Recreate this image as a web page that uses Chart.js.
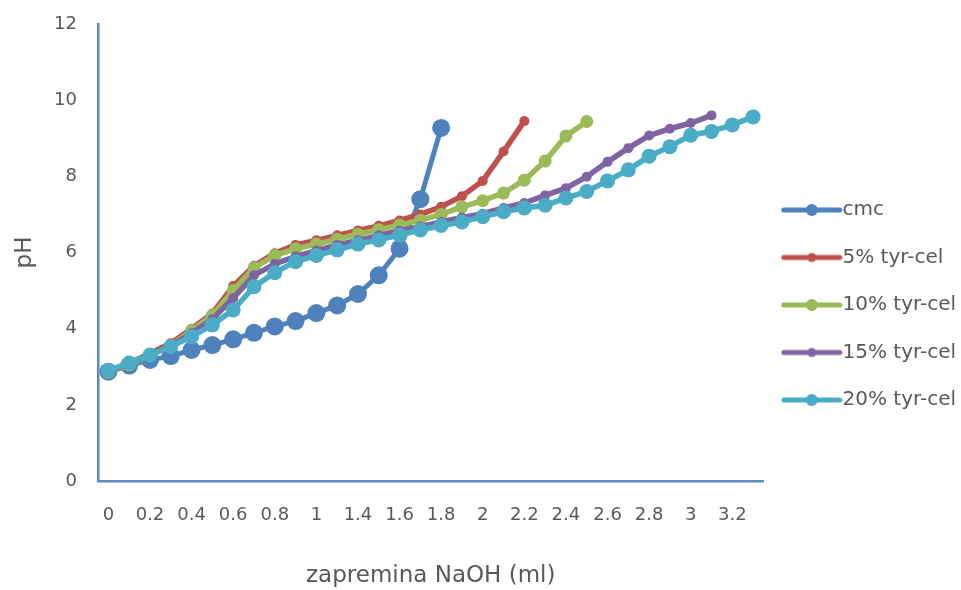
<!DOCTYPE html>
<html>
<head>
<meta charset="utf-8">
<script src="https://cdn.jsdelivr.net/npm/chart.js@4/dist/chart.umd.min.js"></script>
<style>
  html, body { margin: 0; padding: 0; background: #fff; }
  #wrap { width: 961px; height: 590px; }
</style>
</head>
<body>
<div id="wrap"><canvas id="chart" width="961" height="590"></canvas></div>
<script>
// volumes of NaOH (ml) - note the jump after 1 (1.1 and 1.3 are not in the sheet)
const volumes = ['0', '0.1', '0.2', '0.3', '0.4', '0.5', '0.6', '0.7', '0.8', '0.9', '1', '1.2',
    '1.4', '1.5', '1.6', '1.7', '1.8', '1.9', '2', '2.1', '2.2', '2.3', '2.4', '2.5',
    '2.6', '2.7', '2.8', '2.9', '3', '3.1', '3.2', '3.3'];

const seriesNames = ['cmc', '5% tyr-cel', '10% tyr-cel', '15% tyr-cel', '20% tyr-cel'];

const cmc = [2.87, 3.03, 3.18, 3.28, 3.44, 3.57, 3.72, 3.89, 4.06, 4.2, 4.41, 4.61, 4.91, 5.4, 6.1, 7.4, 9.27];
const tyr5 = [2.87, 3.1, 3.35, 3.62, 4.0, 4.4, 5.12, 5.65, 5.98, 6.2, 6.32, 6.45, 6.58, 6.7, 6.84, 7.0, 7.2,
    7.48, 7.88, 8.65, 9.45];
const tyr10 = [2.85, 3.05, 3.3, 3.55, 3.95, 4.35, 5.0, 5.6, 5.92, 6.1, 6.22, 6.35, 6.48, 6.6, 6.72, 6.85, 7.0,
    7.2, 7.36, 7.56, 7.9, 8.4, 9.06, 9.44];
const tyr15 = [2.87, 3.08, 3.3, 3.55, 3.88, 4.25, 4.8, 5.4, 5.7, 5.9, 6.05, 6.2, 6.32, 6.45, 6.57, 6.68, 6.8,
    6.92, 7.02, 7.17, 7.3, 7.5, 7.69, 7.99, 8.38, 8.74, 9.07, 9.25, 9.4, 9.6];
const tyr20 = [2.9, 3.1, 3.31, 3.53, 3.79, 4.1, 4.49, 5.1, 5.47, 5.76, 5.92, 6.07, 6.22, 6.33, 6.46, 6.59, 6.71,
    6.8, 6.94, 7.07, 7.17, 7.24, 7.43, 7.6, 7.88, 8.17, 8.53, 8.78, 9.08, 9.18, 9.35, 9.56];

const yTicks = [0, 2, 4, 6, 8, 10, 12];

const colors = ['#4F81BD', '#C0504D', '#9BBB59', '#8064A2', '#4BACC6'];
const radii = [9, 5, 6.5, 5, 7.5];
const allValues = [cmc, tyr5, tyr10, tyr15, tyr20];

const FONT = "'DejaVu Sans', sans-serif";
const GREY = '#595959';
const AXIS = '#5B8AC6';

// legend icon: short thick line with a dot in the middle, like the office legend
function legendIcon(color, r) {
    const c = document.createElement('canvas');
    c.width = 62;
    c.height = 22;
    const g = c.getContext('2d');
    g.strokeStyle = color;
    g.lineWidth = 5;
    g.lineCap = 'round';
    g.beginPath();
    g.moveTo(3, 11);
    g.lineTo(59, 11);
    g.stroke();
    g.fillStyle = color;
    g.beginPath();
    g.arc(31, 11, r, 0, Math.PI * 2);
    g.fill();
    return c;
}

const datasets = allValues.map((vals, i) => ({
    label: seriesNames[i],
    data: vals,
    borderColor: colors[i],
    backgroundColor: colors[i],
    pointBackgroundColor: colors[i],
    pointBorderWidth: 0,
    pointRadius: radii[i],
    borderWidth: i === 0 ? 5 : 5.5,
    tension: 0,
    order: allValues.length - i // later series on top, as in excel
}));

// small correction of the legend's vertical spot
const legendShift = {
    id: 'legendShift',
    afterLayout(chart) {
        if (chart.legend) chart.legend.top -= 4;
    }
};

const ctx = document.getElementById('chart').getContext('2d');

new Chart(ctx, {
    type: 'line',
    data: { labels: volumes, datasets: datasets },
    plugins: [legendShift],
    options: {
        responsive: false,
        animation: false,
        layout: { autoPadding: false, padding: { top: 24, left: 11, right: -5, bottom: 0 } },
        plugins: {
            tooltip: { enabled: false },
            legend: {
                position: 'right',
                labels: {
                    usePointStyle: true,
                    pointStyleWidth: 41.5,
                    padding: 27.5,
                    color: GREY,
                    font: { family: FONT, size: 20 },
                    generateLabels: chart => chart.data.datasets.map((ds, i) => ({
                        text: ds.label,
                        pointStyle: legendIcon(colors[i], radii[i] > 6 ? 6 : 4.5),
                        fillStyle: colors[i],
                        strokeStyle: colors[i],
                        lineWidth: 0,
                        fontColor: GREY,
                        hidden: false,
                        datasetIndex: i
                    }))
                }
            }
        },
        scales: {
            x: {
                type: 'category',
                offset: true,
                grid: { display: false, drawTicks: false },
                border: { color: AXIS, width: 2.5 },
                ticks: {
                    autoSkip: false,
                    maxRotation: 0,
                    padding: 24,
                    color: GREY,
                    font: { family: FONT, size: 18 },
                    callback: (v, i) => (i % 2 === 0 ? volumes[i] : '')
                },
                title: {
                    display: true,
                    text: 'zapremina NaOH (ml)',
                    color: GREY,
                    font: { family: FONT, size: 23 },
                    padding: { top: 11.8, bottom: 0 }
                }
            },
            y: {
                min: 0,
                max: 12,
                grid: { display: false, drawTicks: false },
                border: { color: AXIS, width: 2.5 },
                afterBuildTicks: axis => { axis.ticks = yTicks.map(v => ({ value: v })); },
                afterFit: axis => { axis.paddingTop = 0; }, // let the top label stick out like excel does
                ticks: {
                    padding: 21,
                    color: GREY,
                    font: { family: FONT, size: 18 }
                },
                title: {
                    display: true,
                    text: 'pH',
                    color: GREY,
                    font: { family: FONT, size: 23 },
                    padding: { top: 0, bottom: -5.5 }
                }
            }
        }
    }
});
</script>
</body>
</html>
